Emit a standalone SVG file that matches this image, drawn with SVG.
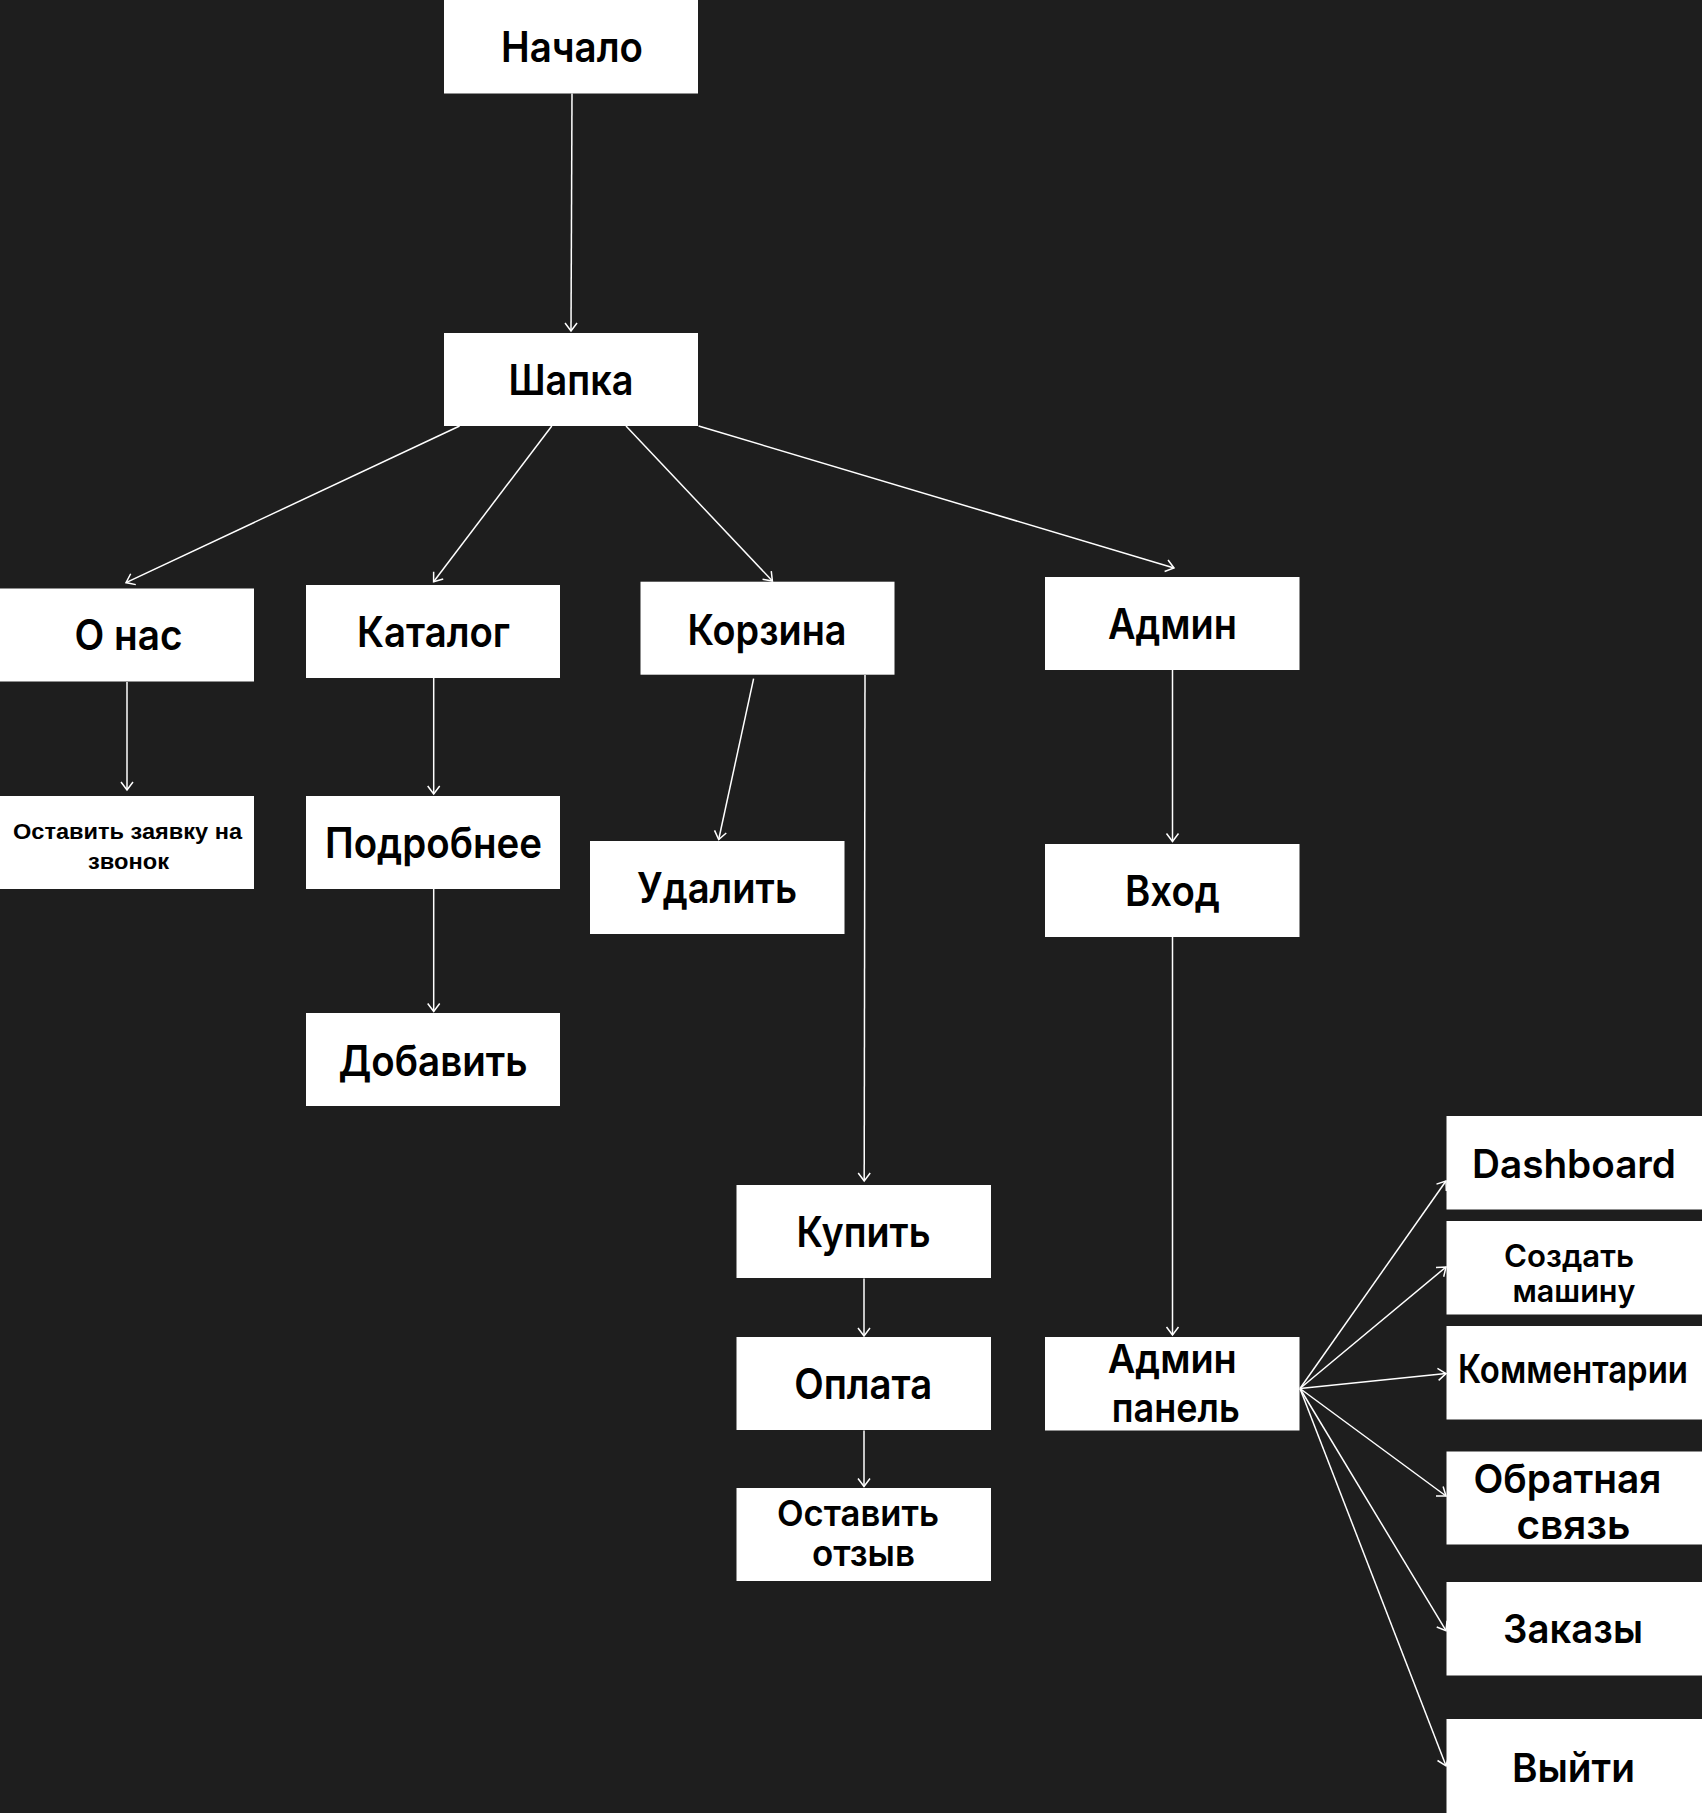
<svg xmlns="http://www.w3.org/2000/svg" width="1702" height="1813" viewBox="0 0 1702 1813">
<style>
.bg{fill:#1e1e1e}
.box{fill:#ffffff}
.t{font-family:Inter,Roboto,"Liberation Sans",sans-serif;font-weight:600;font-size:42px;fill:#000;text-anchor:middle}
.s{font-family:"Liberation Sans",Arial,sans-serif;font-weight:700;font-size:22px;fill:#000;text-anchor:middle}
.c line{stroke:#ffffff;stroke-width:1.5;fill:none;marker-end:url(#arr)}
</style>
<defs>
<marker id="arr" markerUnits="userSpaceOnUse" markerWidth="20" markerHeight="20" viewBox="-10 -10 20 20" refX="0" refY="0" orient="auto">
<path d="M-8,-6 L0,0 L-8,6" fill="none" stroke="#ffffff" stroke-width="1.5"/>
</marker>
</defs>
<rect class="bg" x="0" y="0" width="1702" height="1813"/>
<g class="c" id="connectors">
<line x1="572" y1="93.5" x2="571" y2="331"/>
<line x1="459.6" y1="426" x2="126" y2="582.6"/>
<line x1="551.8" y1="426" x2="433.6" y2="581.7"/>
<line x1="626" y1="426" x2="772.4" y2="581"/>
<line x1="698.6" y1="426" x2="1174" y2="568"/>
<line x1="127" y1="682" x2="127" y2="790"/>
<line x1="433.7" y1="678" x2="433.7" y2="794"/>
<line x1="433.7" y1="889" x2="433.7" y2="1011.5"/>
<line x1="753.6" y1="678.6" x2="718.7" y2="839.5"/>
<line x1="865" y1="675" x2="864.2" y2="1181"/>
<line x1="864" y1="1278.5" x2="864" y2="1336"/>
<line x1="864" y1="1430.5" x2="864" y2="1486.5"/>
<line x1="1172.5" y1="670" x2="1172.5" y2="841.5"/>
<line x1="1172.5" y1="937" x2="1172.5" y2="1335"/>
<line x1="1300" y1="1388.5" x2="1446" y2="1181"/>
<line x1="1300" y1="1388.5" x2="1446" y2="1267"/>
<line x1="1300" y1="1388.5" x2="1446" y2="1373.6"/>
<line x1="1300" y1="1388.5" x2="1446" y2="1496"/>
<line x1="1300" y1="1388.5" x2="1446" y2="1630.7"/>
<line x1="1300" y1="1388.5" x2="1446" y2="1765.8"/>
</g>
<g id="n-nachalo"><rect class="box" x="444" y="0" width="254" height="93.5"/><text class="t" x="572" y="62.3" textLength="142" lengthAdjust="spacingAndGlyphs">Начало</text></g>
<g id="n-shapka"><rect class="box" x="444" y="333" width="254" height="93"/><text class="t" x="571" y="395" textLength="125" lengthAdjust="spacingAndGlyphs">Шапка</text></g>
<g id="n-onas"><rect class="box" x="0" y="588.5" width="254" height="93"/><text class="t" x="128.5" y="650" textLength="108" lengthAdjust="spacingAndGlyphs">О нас</text></g>
<g id="n-katalog"><rect class="box" x="306" y="585" width="254" height="93"/><text class="t" x="433.5" y="646.7" textLength="153" lengthAdjust="spacingAndGlyphs">Каталог</text></g>
<g id="n-korzina"><rect class="box" x="640.5" y="581.7" width="254" height="93"/><text class="t" x="767" y="645" textLength="159" lengthAdjust="spacingAndGlyphs">Корзина</text></g>
<g id="n-admin"><rect class="box" x="1045" y="577" width="254.5" height="93"/><text class="t" x="1172.5" y="639.3" textLength="129" lengthAdjust="spacingAndGlyphs">Админ</text></g>
<g id="n-zayavka"><rect class="box" x="0" y="796" width="254" height="93"/><text class="s" x="127.5" y="839.3" textLength="229" lengthAdjust="spacingAndGlyphs">Оставить заявку на</text><text class="s" x="128.5" y="869.3" textLength="81" lengthAdjust="spacingAndGlyphs">звонок</text></g>
<g id="n-podrobnee"><rect class="box" x="306" y="796" width="254" height="93"/><text class="t" x="433.5" y="858" textLength="217" lengthAdjust="spacingAndGlyphs">Подробнее</text></g>
<g id="n-udalit"><rect class="box" x="590" y="841" width="254.5" height="93"/><text class="t" x="717" y="902.7" textLength="160" lengthAdjust="spacingAndGlyphs">Удалить</text></g>
<g id="n-vhod"><rect class="box" x="1045" y="844" width="254.5" height="93"/><text class="t" x="1172.5" y="906" textLength="95" lengthAdjust="spacingAndGlyphs">Вход</text></g>
<g id="n-dobavit"><rect class="box" x="306" y="1013" width="254" height="93"/><text class="t" x="433" y="1076" textLength="189" lengthAdjust="spacingAndGlyphs">Добавить</text></g>
<g id="n-kupit"><rect class="box" x="736.5" y="1185" width="254.5" height="93"/><text class="t" x="863.5" y="1246.5" textLength="134" lengthAdjust="spacingAndGlyphs">Купить</text></g>
<g id="n-oplata"><rect class="box" x="736.5" y="1337" width="254.5" height="93"/><text class="t" x="863.2" y="1399.2" textLength="138" lengthAdjust="spacingAndGlyphs">Оплата</text></g>
<g id="n-otzyv"><rect class="box" x="736.5" y="1488" width="254.5" height="93"/><text class="t" x="858" y="1525.5" style="font-size:36px" textLength="162" lengthAdjust="spacingAndGlyphs">Оставить</text><text class="t" x="863.4" y="1565.7" style="font-size:36px" textLength="103" lengthAdjust="spacingAndGlyphs">отзыв</text></g>
<g id="n-adminpanel"><rect class="box" x="1045" y="1337" width="254.5" height="93.5"/><text class="t" x="1172.3" y="1373.3" style="font-size:40px" textLength="129" lengthAdjust="spacingAndGlyphs">Админ</text><text class="t" x="1175.8" y="1421.7" style="font-size:40px" textLength="128" lengthAdjust="spacingAndGlyphs">панель</text></g>
<g id="n-dashboard"><rect class="box" x="1446.5" y="1116" width="256" height="93.5"/><text class="t" x="1574" y="1178" style="font-size:39px" textLength="204" lengthAdjust="spacingAndGlyphs">Dashboard</text></g>
<g id="n-sozdat"><rect class="box" x="1446.5" y="1221" width="256" height="93.5"/><text class="t" x="1569" y="1266.7" style="font-size:31px" textLength="130" lengthAdjust="spacingAndGlyphs">Создать</text><text class="t" x="1574" y="1301.7" style="font-size:31px" textLength="123" lengthAdjust="spacingAndGlyphs">машину</text></g>
<g id="n-komment"><rect class="box" x="1446.5" y="1326" width="256" height="93.5"/><text class="t" x="1573" y="1383" style="font-size:39px" textLength="230" lengthAdjust="spacingAndGlyphs">Комментарии</text></g>
<g id="n-obratnaya"><rect class="box" x="1446.5" y="1451.5" width="256" height="93"/><text class="t" x="1567.5" y="1493.3" style="font-size:40px" textLength="188" lengthAdjust="spacingAndGlyphs">Обратная</text><text class="t" x="1573.5" y="1539" style="font-size:40px" textLength="114" lengthAdjust="spacingAndGlyphs">связь</text></g>
<g id="n-zakazy"><rect class="box" x="1446.5" y="1582" width="256" height="93.5"/><text class="t" x="1573" y="1643.3" style="font-size:40px" textLength="140" lengthAdjust="spacingAndGlyphs">Заказы</text></g>
<g id="n-vyiti"><rect class="box" x="1446.5" y="1719" width="256" height="94"/><text class="t" x="1573.4" y="1781.7" style="font-size:40px" textLength="123" lengthAdjust="spacingAndGlyphs">Выйти</text></g>
</svg>
